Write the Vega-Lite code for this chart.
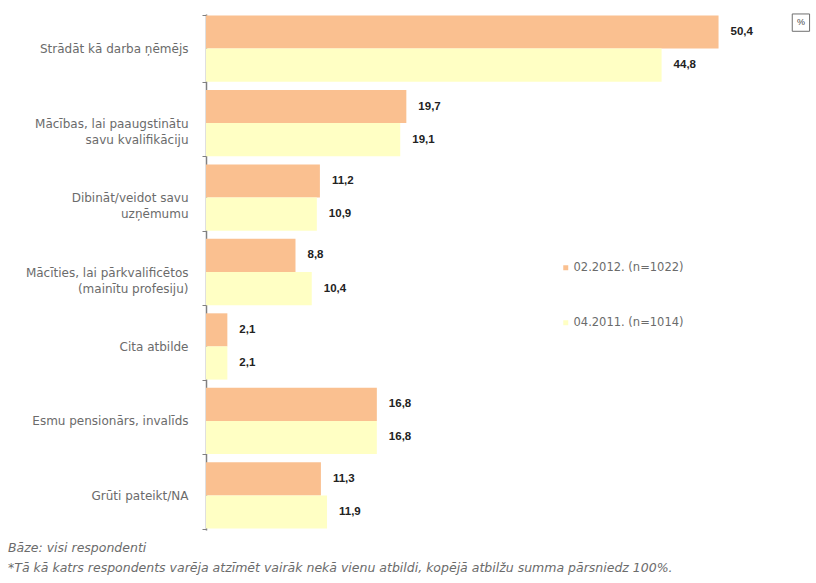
{
  "$schema": "https://vega.github.io/schema/vega-lite/v6.json",
  "width": 600,
  "height": 516,
  "autosize": {"type": "none"},
  "padding": {"left": 206, "top": 14, "right": 10, "bottom": 53},
  "background": "white",
  "config": {
    "view": {"stroke": null},
    "font": "DejaVu Sans"
  },
  "title": {
    "text": ["Bāze: visi respondenti", "*Tā kā katrs respondents varēja atzīmēt vairāk nekā vienu atbildi, kopējā atbilžu summa pārsniedz 100%."],
    "orient": "bottom",
    "anchor": "start",
    "frame": "group",
    "dx": -198,
    "offset": 12,
    "font": "DejaVu Sans",
    "fontSize": 12.5,
    "fontStyle": "italic",
    "fontWeight": "normal",
    "color": "#6b6b6b",
    "lineHeight": 20
  },
  "datasets": {
    "bars": [
      {"category": "Strādāt kā darba ņēmējs", "series": "02.2012.  (n=1022)", "value": 50.4, "label": "50,4"},
      {"category": "Strādāt kā darba ņēmējs", "series": "04.2011.  (n=1014)", "value": 44.8, "label": "44,8"},
      {"category": "Mācības, lai paaugstinātu\nsavu kvalifikāciju", "series": "02.2012.  (n=1022)", "value": 19.7, "label": "19,7"},
      {"category": "Mācības, lai paaugstinātu\nsavu kvalifikāciju", "series": "04.2011.  (n=1014)", "value": 19.1, "label": "19,1"},
      {"category": "Dibināt/veidot savu\nuzņēmumu", "series": "02.2012.  (n=1022)", "value": 11.2, "label": "11,2"},
      {"category": "Dibināt/veidot savu\nuzņēmumu", "series": "04.2011.  (n=1014)", "value": 10.9, "label": "10,9"},
      {"category": "Mācīties, lai pārkvalificētos\n(mainītu profesiju)", "series": "02.2012.  (n=1022)", "value": 8.8, "label": "8,8"},
      {"category": "Mācīties, lai pārkvalificētos\n(mainītu profesiju)", "series": "04.2011.  (n=1014)", "value": 10.4, "label": "10,4"},
      {"category": "Cita atbilde", "series": "02.2012.  (n=1022)", "value": 2.1, "label": "2,1"},
      {"category": "Cita atbilde", "series": "04.2011.  (n=1014)", "value": 2.1, "label": "2,1"},
      {"category": "Esmu pensionārs, invalīds", "series": "02.2012.  (n=1022)", "value": 16.8, "label": "16,8"},
      {"category": "Esmu pensionārs, invalīds", "series": "04.2011.  (n=1014)", "value": 16.8, "label": "16,8"},
      {"category": "Grūti pateikt/NA", "series": "02.2012.  (n=1022)", "value": 11.3, "label": "11,3"},
      {"category": "Grūti pateikt/NA", "series": "04.2011.  (n=1014)", "value": 11.9, "label": "11,9"}
    ],
    "unit": [
      {"category": "Strādāt kā darba ņēmējs", "value": 58.5, "label": "%"}
    ]
  },
  "layer": [
    {
      "data": {"name": "bars"},
      "mark": {"type": "bar"},
      "encoding": {
        "y": {
          "field": "category", "type": "nominal", "sort": null,
          "scale": {"paddingInner": 0.11, "paddingOuter": 0.02},
          "axis": {
            "title": null,
            "labelExpr": "isValid(datum.value) ? split(datum.value, '\\n') : ''",
            "labelFont": "DejaVu Sans",
            "labelFontSize": 12,
            "labelColor": "#6b6b6b",
            "labelPadding": 14,
            "labelLineHeight": 16,
            "tickBand": "extent",
            "tickSize": 4,
            "tickColor": "#808080",
            "domainColor": "#808080",
            "domainWidth": 1.5
          }
        },
        "yOffset": {"field": "series", "type": "nominal", "sort": null, "scale": {"paddingInner": 0, "paddingOuter": 0}},
        "x": {
          "field": "value", "type": "quantitative",
          "scale": {"domain": [0, 59], "nice": false},
          "axis": null
        },
        "color": {
          "field": "series", "type": "nominal", "sort": null,
          "scale": {"range": ["#FAC090", "#FFFFC4"]},
          "legend": {
            "title": null,
            "orient": "none",
            "legendX": 354,
            "legendY": 248,
            "symbolType": "square",
            "symbolSize": 25,
            "symbolStrokeWidth": 0,
            "labelFont": "DejaVu Sans",
            "labelFontSize": 11.5,
            "labelColor": "#6b6b6b",
            "rowPadding": 42,
            "labelOffset": 2
          }
        }
      }
    },
    {
      "data": {"name": "bars"},
      "mark": {"type": "text", "align": "left", "dx": 12, "font": "Liberation Sans", "fontSize": 11.5, "fontWeight": "bold", "color": "#222222"},
      "encoding": {
        "y": {"field": "category", "type": "nominal", "sort": null},
        "yOffset": {"field": "series", "type": "nominal", "sort": null},
        "x": {"field": "value", "type": "quantitative"},
        "text": {"field": "label", "type": "nominal"}
      }
    },
    {
      "data": {"name": "unit"},
      "mark": {"type": "point", "shape": "square", "size": 300, "filled": false, "stroke": "#333333", "strokeWidth": 1, "yOffset": -26},
      "encoding": {
        "y": {"field": "category", "type": "nominal", "sort": null},
        "x": {"field": "value", "type": "quantitative"}
      }
    },
    {
      "data": {"name": "unit"},
      "mark": {"type": "text", "font": "Liberation Sans", "fontSize": 9, "color": "#444444", "dy": -27},
      "encoding": {
        "y": {"field": "category", "type": "nominal", "sort": null},
        "x": {"field": "value", "type": "quantitative"},
        "text": {"field": "label", "type": "nominal"}
      }
    }
  ]
}
